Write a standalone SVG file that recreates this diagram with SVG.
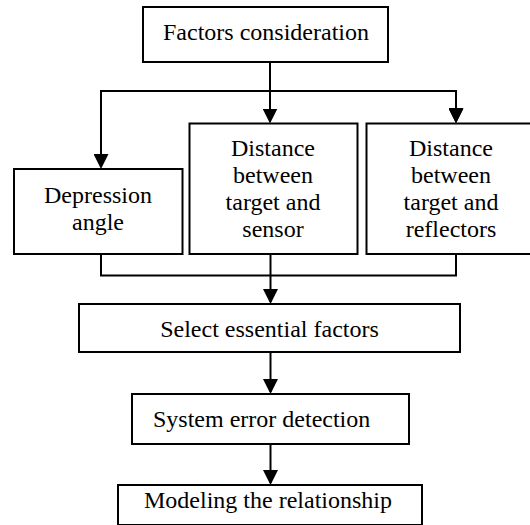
<svg xmlns="http://www.w3.org/2000/svg" width="530" height="525" viewBox="0 0 530 525">
  <style>
    .box { fill: #ffffff; stroke: #000000; stroke-width: 2; }
    .lbl { font-family: "Liberation Serif", "Times New Roman", serif; font-size: 24px; fill: #000000; text-anchor: middle; }
    .wire { fill: none; stroke: #000000; stroke-width: 2; }
  </style>
  <defs>
    <marker id="ah" viewBox="0 0 15 15" refX="13" refY="7.5" markerWidth="15" markerHeight="15" markerUnits="userSpaceOnUse" orient="auto">
      <path d="M0,0 L15,7.5 L0,15 Z" fill="#000000"/>
    </marker>
  </defs>
  <rect x="0" y="0" width="530" height="525" fill="#ffffff"/>

  <g id="connectors">
    <path class="wire" d="M270,62 V91"/>
    <path class="wire" d="M101,167 V91 H456 V121" marker-end="url(#ah)"/>
    <path class="wire" d="M101,91 V167" marker-end="url(#ah)"/>
    <path class="wire" d="M270,91 V121.5" marker-end="url(#ah)"/>
    <path class="wire" d="M456,91 V121.5" marker-end="url(#ah)"/>
    <path class="wire" d="M101,254 V275.5 H456 V254"/>
    <path class="wire" d="M270.5,254 V302" marker-end="url(#ah)"/>
    <path class="wire" d="M270.5,352 V392" marker-end="url(#ah)"/>
    <path class="wire" d="M270.5,444 V483" marker-end="url(#ah)"/>
  </g>

  <g id="factors">
    <rect class="box" x="143" y="7" width="245" height="55"/>
    <text class="lbl" x="266" y="40">Factors consideration</text>
  </g>

  <g id="depression">
    <rect class="box" x="14" y="169" width="168.5" height="85"/>
    <text class="lbl" x="98" y="203">Depression</text>
    <text class="lbl" x="98" y="230">angle</text>
  </g>

  <g id="dist-sensor">
    <rect class="box" x="189.5" y="123.5" width="168" height="130.5"/>
    <text class="lbl" x="273" y="156">Distance</text>
    <text class="lbl" x="273" y="183">between</text>
    <text class="lbl" x="273" y="210">target and</text>
    <text class="lbl" x="273" y="237">sensor</text>
  </g>

  <g id="dist-reflectors">
    <rect class="box" x="366.5" y="123.5" width="166" height="130.5"/>
    <text class="lbl" x="451" y="156">Distance</text>
    <text class="lbl" x="451" y="183">between</text>
    <text class="lbl" x="451" y="210">target and</text>
    <text class="lbl" x="451" y="237">reflectors</text>
  </g>

  <g id="select">
    <rect class="box" x="79" y="304" width="381" height="48"/>
    <text class="lbl" x="269.5" y="337">Select essential factors</text>
  </g>

  <g id="system-error">
    <rect class="box" x="132" y="394" width="277" height="50"/>
    <text class="lbl" x="153" y="427" style="text-anchor:start">System error detection</text>
  </g>

  <g id="modeling">
    <rect class="box" x="118" y="485" width="304" height="40"/>
    <text class="lbl" x="268" y="508">Modeling the relationship</text>
  </g>
</svg>
